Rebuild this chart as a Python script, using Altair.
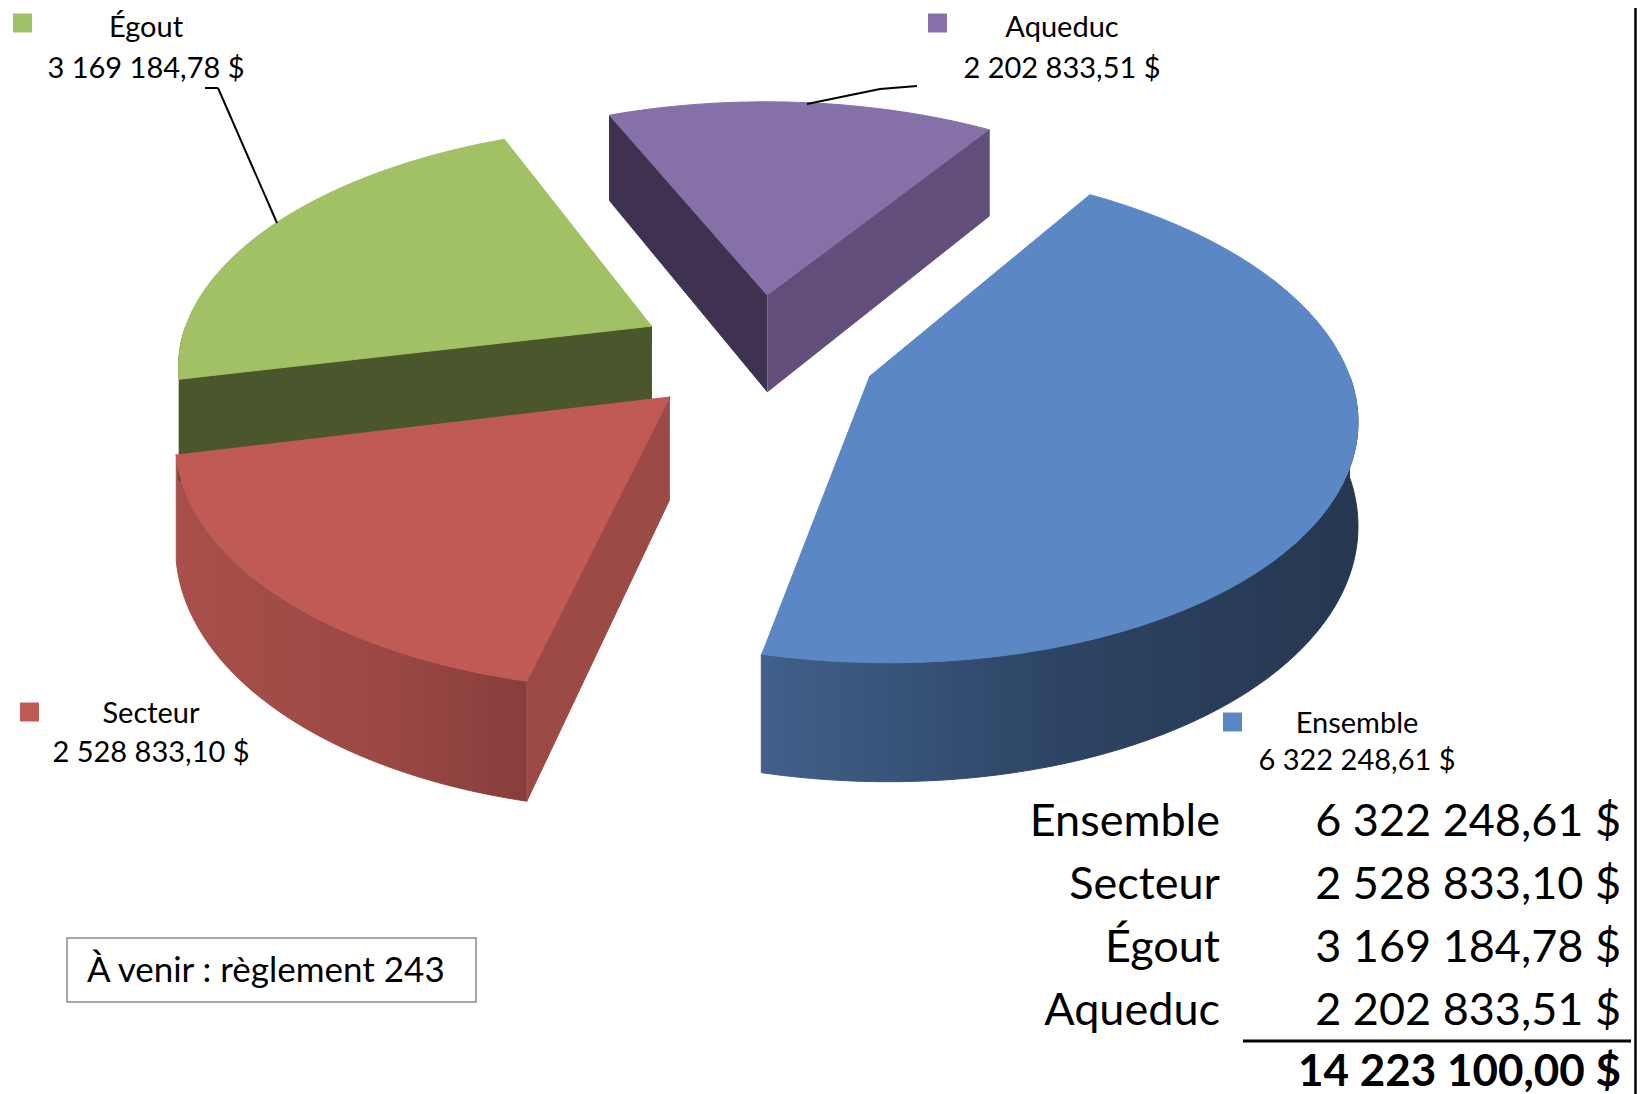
import altair as alt
import pandas as pd

# ---- data ----
categories = ["Ensemble", "Secteur", "Égout", "Aqueduc"]
values = [6322248.61, 2528833.10, 3169184.78, 2202833.51]
slice_order = [0, 1, 2, 3]
note_text = "À venir : règlement 243"

df = pd.DataFrame({"category": categories, "value": values, "order": slice_order})

# ---- layout / geometry (page pixel coordinates) ----
W, H, OFF = 1629, 1086, 8
ROT = 0.576          # first slice angle (rad, clockwise from 12 o'clock)
CX, CY = 757, 353    # projected pie centre (top face)
R, E = 474, 120      # radius and explode distance (ground plane)
K, D, DEPTH = 0.5, 3271, 100   # tilt, perspective distance, thickness
N = 60

FONT = "Lato"
xs = alt.Scale(domain=[OFF, OFF + W], nice=False, zero=False)
ys = alt.Scale(domain=[OFF, OFF + H], nice=False, zero=False, reverse=True)

top_colors = {"Ensemble": "#5b88c4", "Secteur": "#c05a55", "Égout": "#a2c064", "Aqueduc": "#8670a8"}
face_colors = {"Secteur-0": "#9b4a45", "Égout-0": "#4a562c", "Aqueduc-0": "#3e3250",
               "Aqueduc-1": "#614e7b", "Ensemble-0": "#3f5d85", "Ensemble-1": "#3f5d85",
               "Secteur-1": "#9b4a45", "Égout-1": "#4a562c"}
all_colors = dict(face_colors)
for c, v in top_colors.items():
    all_colors[c + "-top"] = v
cscale = alt.Scale(domain=list(all_colors.keys()), range=list(all_colors.values()))

FMT = "replace(replace(format(datum.value, ',.2f'), regexp(',', 'g'), ' '), '.', ',') + ' $'"


def base():
    return (alt.Chart(df)
            .transform_joinaggregate(total="sum(value)")
            .transform_window(cum="sum(value)", sort=[alt.SortField("order")], frame=[None, 0])
            .transform_calculate(a0=f"{ROT} + 2*PI*(datum.cum - datum.value)/datum.total")
            .transform_calculate(a1=f"{ROT} + 2*PI*datum.cum/datum.total")
            .transform_calculate(mid="(datum.a0 + datum.a1)/2")
            .transform_calculate(ex=f"{E}*sin(datum.mid)")
            .transform_calculate(ez=f"{E}*cos(datum.mid)"))


def project(ch, arc_expr, ang_expr, bot_expr):
    return (ch.transform_calculate(arc=arc_expr)
            .transform_calculate(ang=ang_expr)
            .transform_calculate(bot=bot_expr)
            .transform_calculate(gx=f"datum.ex + datum.arc*{R}*sin(datum.ang)")
            .transform_calculate(gz=f"datum.ez + datum.arc*{R}*cos(datum.ang)")
            .transform_calculate(p=f"{D}/({D} + datum.gz)")
            .transform_calculate(sx=f"{CX} + datum.gx*datum.p")
            .transform_calculate(sy=f"{CY} - {K}*datum.gz*datum.p + datum.bot*{DEPTH}*datum.p"))


XY = dict(x=alt.X("sx:Q", scale=xs, axis=None), y=alt.Y("sy:Q", scale=ys, axis=None),
          order=alt.Order("idx:Q"))


def grad(stops):
    return alt.LinearGradient(gradient="linear", x1=0, x2=1, y1=0, y2=0,
                              stops=[alt.GradientStop(offset=o, color=c) for o, c in stops])


def rim(cat, fill):
    ch = (base().transform_filter(alt.datum.category == cat)
          .transform_calculate(f0="max(datum.a0, PI/2)")
          .transform_calculate(f1="min(datum.a1, 3*PI/2)")
          .transform_filter("datum.f1 > datum.f0")
          .transform_calculate(idx=f"sequence(0, {2 * N})")
          .transform_flatten(["idx"]))
    ch = project(ch, "1",
                 f"datum.f0 + (datum.f1 - datum.f0)*(datum.idx < {N} ? datum.idx : {2 * N - 1} - datum.idx)/{N - 1}",
                 f"datum.idx >= {N} ? 1 : 0")
    return ch.mark_line(fill=fill, stroke=fill, strokeWidth=1).encode(**XY)


rims = [
    rim("Ensemble", grad([(0, "#40608a"), (0.5, "#2d4464"), (1, "#263750")])),
    rim("Secteur", grad([(0, "#a84f4b"), (0.6, "#9b4844"), (1, "#873e3b")])),
    rim("Égout", "#4a562c"),
]

faces = (base().transform_calculate(side="[0, 1]").transform_flatten(["side"])
         .transform_calculate(fa="datum.side == 0 ? datum.a0 : datum.a1")
         .transform_filter("datum.side == 0 ? sin(datum.fa) < 0 : sin(datum.fa) > 0")
         .transform_calculate(key="datum.category + '-' + datum.side")
         .transform_calculate(idx="[0, 1, 2, 3]").transform_flatten(["idx"]))
faces = project(faces, "(datum.idx == 1 || datum.idx == 2) ? 1 : 0", "datum.fa", "datum.idx >= 2 ? 1 : 0")
faces = faces.mark_line(strokeWidth=1).encode(
    fill=alt.Fill("key:N", scale=cscale, legend=None),
    stroke=alt.Stroke("key:N", scale=cscale, legend=None), **XY)

tops = (base().transform_calculate(key="datum.category + '-top'")
        .transform_calculate(idx=f"sequence(0, {N + 1})").transform_flatten(["idx"]))
tops = project(tops, "datum.idx > 0 ? 1 : 0",
               f"datum.a0 + (datum.a1 - datum.a0)*(datum.idx - 1)/{N - 1}", "0")
tops = tops.mark_line(strokeWidth=1).encode(
    fill=alt.Fill("key:N", scale=cscale, legend=None),
    stroke=alt.Stroke("key:N", scale=cscale, legend=None), **XY)

# ---- data labels (positions are layout, in page pixels) ----
label_pos = {  # square centre, text centre x, name baseline, value baseline
    "Égout": (22.5, 23, 146, 37, 78),
    "Aqueduc": (937.5, 23, 1062, 37, 78),
    "Secteur": (29.5, 712, 151, 723, 762),
    "Ensemble": (1232.5, 722, 1357, 733, 770),
}


def P(v):
    return alt.value(v - OFF)


labels = []
for cat, (sqx, sqy, tx, yn, yv) in label_pos.items():
    b = base().transform_filter(alt.datum.category == cat).transform_calculate(vs=FMT)
    labels.append(b.mark_square(size=361, opacity=1, filled=True, color=top_colors[cat]).encode(
        x=P(sqx), y=P(sqy)))
    labels.append(b.mark_text(font=FONT, fontSize=29, align="center", baseline="alphabetic",
                              color="#000").encode(x=P(tx), y=P(yn), text="category:N"))
    labels.append(b.mark_text(font=FONT, fontSize=29, align="center", baseline="alphabetic",
                              color="#000").encode(x=P(tx), y=P(yv), text="vs:N"))

rule_src = base().transform_filter("datum.order == 0")
leaders = []
for (x1, y1, x2, y2) in [(205, 88, 218, 88), (218, 88, 277, 223),
                         (917, 86, 880, 89), (880, 89, 807, 104)]:
    leaders.append(rule_src.mark_rule(color="#000", strokeWidth=2).encode(
        x=P(x1), y=P(y1), x2=P(x2), y2=P(y2)))

# ---- summary table ----
tb = base().transform_calculate(vs=FMT).transform_calculate(ty="836 + 63*datum.order")
t_names = tb.mark_text(font=FONT, fontSize=45, align="right", baseline="alphabetic", color="#000").encode(
    x=P(1220), y=alt.Y("ty:Q", scale=ys, axis=None), text="category:N")
t_vals = tb.mark_text(font=FONT, fontSize=45, align="right", baseline="alphabetic", color="#000").encode(
    x=P(1621), y=alt.Y("ty:Q", scale=ys, axis=None), text="vs:N")
t_rule = rule_src.mark_rule(color="#000", strokeWidth=3).encode(x=P(1243), x2=P(1631), y=P(1041), y2=P(1041))
t_total = (rule_src.transform_calculate(ts="replace(replace(format(datum.total, ',.2f'), regexp(',', 'g'), ' '), '.', ',') + ' $'")
           .mark_text(font=FONT, fontSize=44, fontWeight="bold", align="right", baseline="alphabetic", color="#000")
           .encode(x=P(1621), y=P(1086), text="ts:N"))

# ---- note box and right border ----
box = rule_src.mark_rect(fill="white", stroke="#8a8a8a", strokeWidth=1.5).encode(
    x=P(67), x2=P(476), y=P(938), y2=P(1002))
box_text = rule_src.transform_calculate(nt=f"'{note_text}'").mark_text(
    font=FONT, fontSize=35, align="left", baseline="alphabetic", color="#000").encode(
    x=P(87), y=P(982), text="nt:N")
border = rule_src.mark_rule(color="#000", strokeWidth=2.5).encode(
    x=alt.value(W - 1.5), y=alt.value(0), y2=alt.value(H))

chart = alt.layer(*rims, faces, tops, *leaders, *labels, t_names, t_vals, t_rule, t_total,
                  box, box_text, border).properties(
    width=W, height=H, padding=0, autosize=alt.AutoSizeParams(type="none"), background="white"
).configure_view(stroke=None)

chart.save("out.html", embed_options={"renderer": "svg", "actions": False})
